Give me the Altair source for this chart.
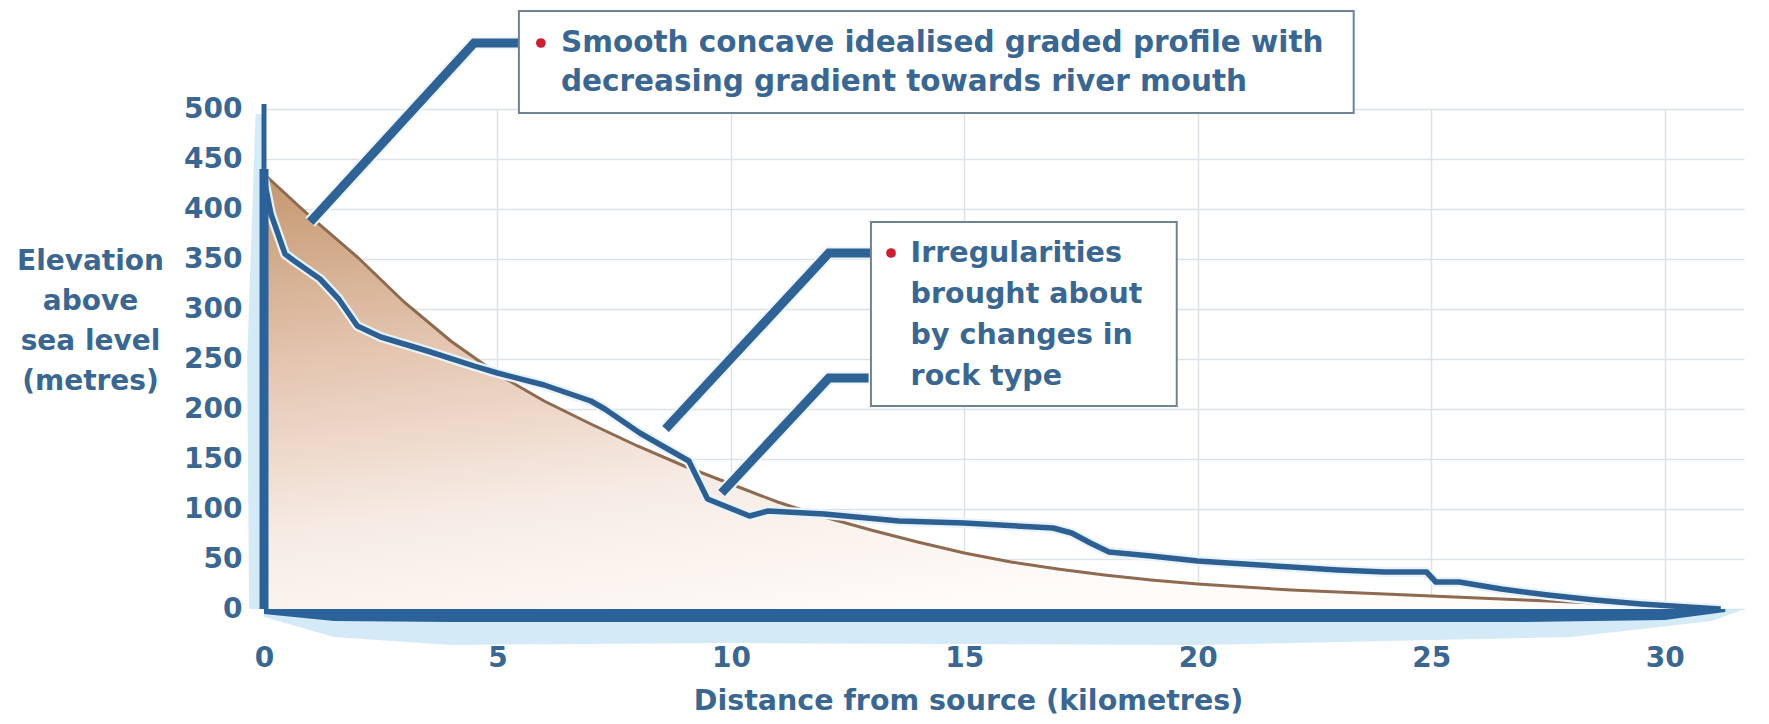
import altair as alt
import pandas as pd

# ---- data (km from source, metres above sea level) ----
graded_km = [0, 1, 2, 3, 4, 5, 6, 7, 8, 9, 10, 11, 12, 13, 14, 15, 16, 17, 18, 19,
             20, 21, 22, 23, 24, 25, 26, 27, 28, 29, 30, 31.2]
graded_m = [435, 392, 352, 307, 268, 235, 208, 185, 163, 143, 125, 107, 92, 79, 67, 56,
            47, 40, 34, 29, 25, 22, 19, 17, 15, 13, 11, 9, 7, 5, 3, 1]

river_km = [0, 0.15, 0.45, 0.65, 1.2, 1.6, 2.0, 2.5, 3.5, 4.5, 5, 6, 7, 7.3, 8.05, 9.1,
            9.5, 10.4, 10.8, 12, 13.6, 15, 16.9, 17.3, 17.7, 18.1, 19, 20, 21, 22, 23,
            24, 24.9, 25.1, 25.6, 26.5, 27.5, 28.5, 29.5, 30.5, 31.2]
river_m = [430, 395, 355, 348, 330, 310, 283, 272, 258, 243, 236, 224, 208, 200, 176, 148,
           110, 93, 98, 95, 88, 86, 81, 76, 66, 57, 53, 48, 45, 42, 39,
           37, 37, 27, 27, 20, 14, 9, 5, 2, 0]

# riverbed bar along the x axis and its pale shadow
bed_km = [0, 1.5, 4, 15, 27, 30, 31.3]
bed_depth = [-5, -12, -13, -13, -13, -11, -3]
glow_km = [0, 1.5, 4, 10, 20, 28, 31, 31.6]
glow_depth = [-8, -28, -36, -34, -36, -28, -12, -2]

# vertical bar along the y axis (segments: bottom, top, stroke width)
ybar_from = [0, 440]
ybar_to = [440, 505]
ybar_w = [9, 5]
yglow_m = [0, 250, 495]
yglow_left = [-0.32, -0.36, -0.18]

x_ticks = [0, 5, 10, 15, 20, 25, 30]
y_ticks = [0, 50, 100, 150, 200, 250, 300, 350, 400, 450, 500]

# annotations
box_x = [5.46, 13.0]
box_x2 = [23.34, 19.55]
box_y = [496, 203]
box_y2 = [598, 387]

note_text = ["Smooth concave idealised graded profile with",
             "decreasing gradient towards river mouth",
             "Irregularities", "brought about", "by changes in", "rock type"]
note_km = [6.36, 6.36, 13.85, 13.85, 13.85, 13.85]
note_m = [566, 527, 356, 315, 274, 233]
note_size = [29.5, 29.5, 28.5, 28.5, 28.5, 28.5]

dot_km = [5.93, 13.43]
dot_m = [566, 356]

leader_id = ["a", "a", "a", "b", "b", "b", "c", "c", "c"]
leader_km = [0.99, 4.5, 5.6, 8.6, 12.1, 13.2, 9.8, 12.1, 12.95]
leader_m = [387, 566, 566, 180, 356, 356, 116, 231, 231]
leader_order = [0, 1, 2, 0, 1, 2, 0, 1, 2]

# ---- styling ----
FONT = "DejaVu Sans"
TXT = "#3a6792"
BLUE = "#2d5f93"

graded = pd.DataFrame({"km": graded_km, "m": graded_m})
river = pd.DataFrame({"km": river_km, "m": river_m})
bed = pd.DataFrame({"km": bed_km, "top": [0] * len(bed_km), "bottom": bed_depth})
glow = pd.DataFrame({"km": glow_km, "top": [0] * len(glow_km), "bottom": glow_depth})
ybar = pd.DataFrame({"km": [0] * len(ybar_from), "a": ybar_from, "b": ybar_to, "w": ybar_w})
yglow = pd.DataFrame({"m": yglow_m, "l": yglow_left, "r": [0] * len(yglow_m)})
boxes = pd.DataFrame({"x": box_x, "x2": box_x2, "y": box_y, "y2": box_y2})
notes = pd.DataFrame({"km": note_km, "m": note_m, "t": note_text, "fs": note_size})
dots = pd.DataFrame({"km": dot_km, "m": dot_m})
leaders = pd.DataFrame({"id": leader_id, "km": leader_km, "m": leader_m, "o": leader_order})

xscale = alt.Scale(domain=[0, 31.7], nice=False, zero=False)
yscale = alt.Scale(domain=[0, 500], nice=False, zero=False)

x_axis = alt.Axis(
    values=x_ticks, grid=True, gridColor="#dde2e8", gridWidth=1.5,
    domain=False, ticks=False, labelFlush=False,
    labelFont=FONT, labelFontSize=28, labelFontWeight="bold", labelColor=TXT,
    labelPadding=49, labelBaseline="middle",
    title="Distance from source (kilometres)",
    titleFont=FONT, titleFontSize=28.5, titleFontWeight="bold", titleColor=TXT,
    titleX=704, titleY=100, titleAlign="center", titleBaseline="alphabetic",
)
y_axis = alt.Axis(
    values=y_ticks, grid=True, gridColor="#dde2e8", gridWidth=1.5,
    domain=False, ticks=False, labelFlush=False,
    labelFont=FONT, labelFontSize=28, labelFontWeight="bold", labelColor=TXT,
    labelPadding=22,
    title=["Elevation", "above", "sea level", "(metres)"],
    titleFont=FONT, titleFontSize=28, titleFontWeight="bold", titleColor=TXT,
    titleAngle=0, titleX=-174, titleY=160, titleAlign="center",
    titleBaseline="alphabetic", titleLineHeight=40,
)

base_x = alt.X("km:Q", scale=xscale, axis=x_axis)
base_y = alt.Y("m:Q", scale=yscale, axis=y_axis)

fill_grad = alt.Gradient(
    gradient="linear",
    stops=[alt.GradientStop(color="#c4976f", offset=0),
           alt.GradientStop(color="#e3c3ad", offset=0.35),
           alt.GradientStop(color="#f7ece5", offset=0.7),
           alt.GradientStop(color="#fefbf9", offset=1)],
    x1=0, y1=0, x2=0.45, y2=1,
)

graded_fill = alt.Chart(graded).mark_area(color=fill_grad, clip=False).encode(
    x=base_x, y=base_y)
graded_line = alt.Chart(graded).mark_line(color="#8d6a50", strokeWidth=3, clip=False).encode(
    x="km:Q", y="m:Q")

glow_area = alt.Chart(glow).mark_area(color="#cfe8f6", opacity=0.9, clip=False).encode(
    x="km:Q", y="top:Q", y2="bottom:Q")
bed_area = alt.Chart(bed).mark_area(color="#2b6299", clip=False).encode(
    x="km:Q", y="top:Q", y2="bottom:Q")
yglow_area = alt.Chart(yglow).mark_area(orient="horizontal", color="#cfe8f6", opacity=0.9,
                                        clip=False).encode(
    y="m:Q", x="l:Q", x2="r:Q")
ybar_rule = alt.Chart(ybar).mark_rule(color="#2b6299", clip=False, strokeCap="butt").encode(
    x="km:Q", y="a:Q", y2="b:Q", strokeWidth=alt.StrokeWidth("w:Q", scale=None))

river_halo = alt.Chart(river).mark_line(color="#e8f3fb", strokeWidth=10, clip=False,
                                        strokeJoin="round").encode(x="km:Q", y="m:Q")
river_line = alt.Chart(river).mark_line(color=BLUE, strokeWidth=5.5, clip=False,
                                        strokeJoin="round").encode(x="km:Q", y="m:Q")

leader_halo = alt.Chart(leaders).mark_line(color="#eef6fc", strokeWidth=13, clip=False,
                                           strokeCap="butt").encode(
    x="km:Q", y="m:Q", detail="id:N", order="o:Q")
leader_line = alt.Chart(leaders).mark_line(color="#2f6396", strokeWidth=9, clip=False,
                                           strokeCap="butt").encode(
    x="km:Q", y="m:Q", detail="id:N", order="o:Q")

box_rect = alt.Chart(boxes).mark_rect(fill="white", stroke="#6f8296", strokeWidth=2,
                                      clip=False).encode(
    x="x:Q", x2="x2:Q", y="y:Q", y2="y2:Q")
note_txt = alt.Chart(notes).mark_text(font=FONT, fontWeight="bold", color=TXT,
                                      align="left", baseline="middle", clip=False).encode(
    x="km:Q", y="m:Q", text="t:N", size=alt.Size("fs:Q", scale=None))
dot_mark = alt.Chart(dots).mark_circle(color="#cc1f2f", opacity=1, size=95, clip=False).encode(
    x="km:Q", y="m:Q")

chart = alt.layer(
    graded_fill, glow_area, yglow_area, graded_line, river_halo, river_line,
    bed_area, ybar_rule, leader_halo, leader_line, box_rect, note_txt, dot_mark,
).properties(
    width=1480, height=500,
    autosize=alt.AutoSizeParams(type="none"),
    padding={"left": 256, "top": 101, "right": 17, "bottom": 109},
    background="white",
).configure_view(strokeWidth=0)

chart.save("out.html", embed_options={"renderer": "svg", "actions": False})
